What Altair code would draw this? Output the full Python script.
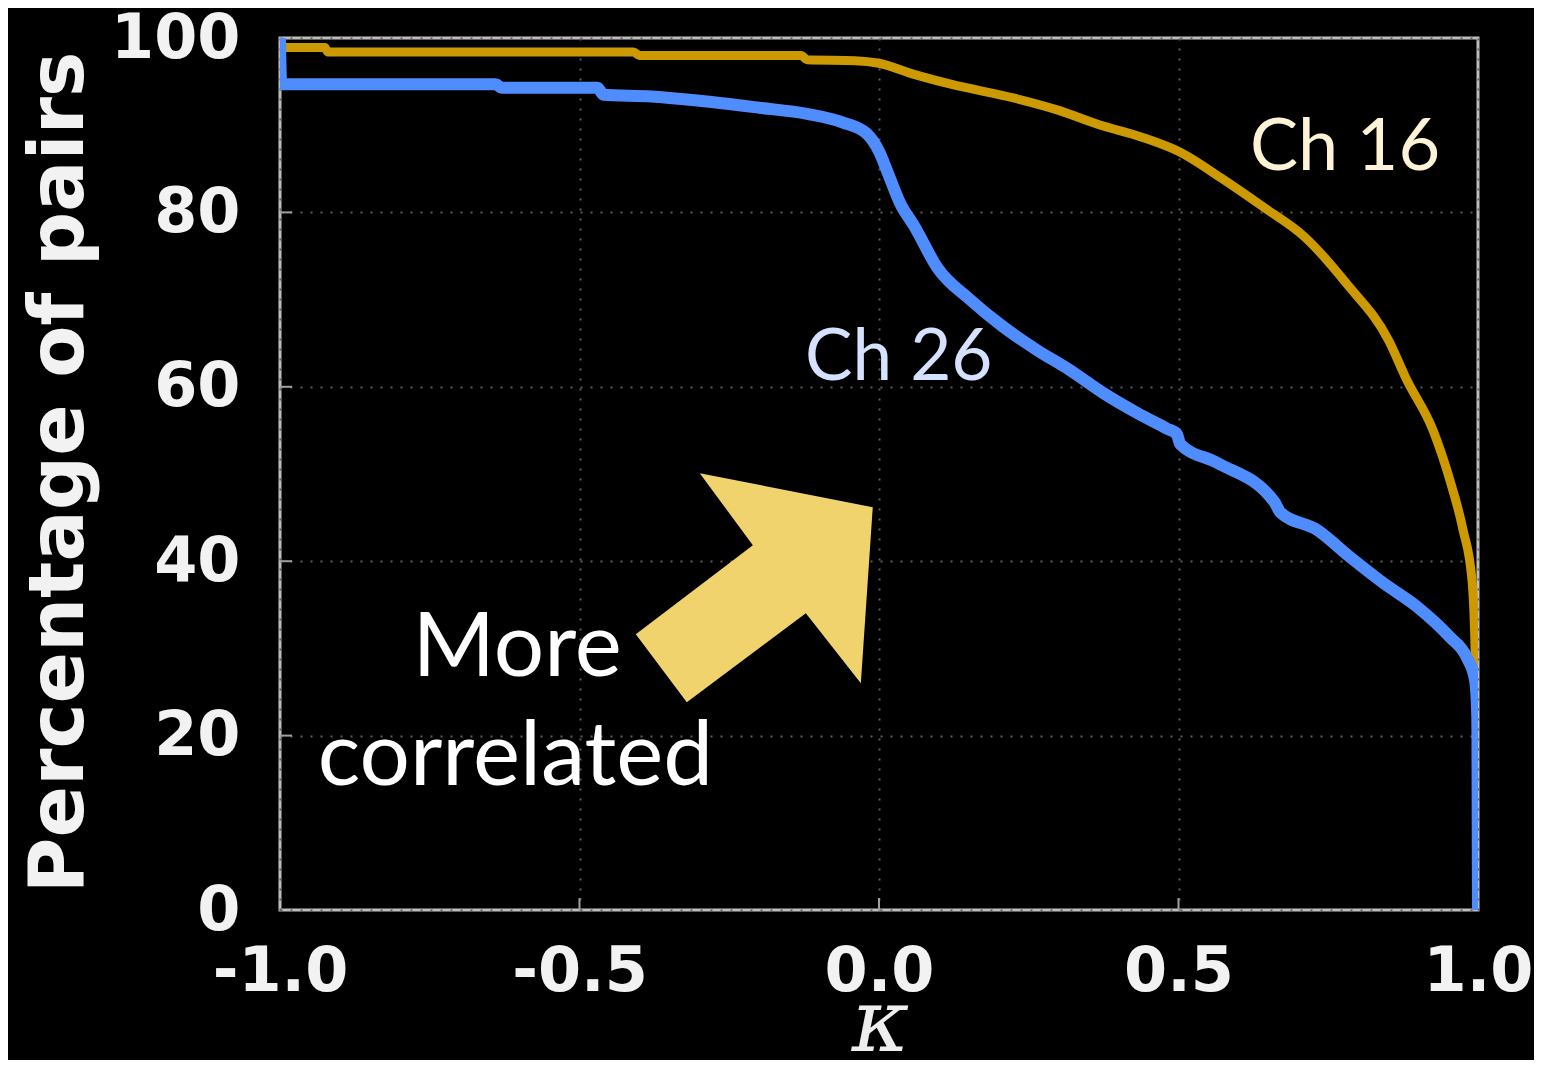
import altair as alt
import pandas as pd

# ---------------- data ----------------
ch16_kappa = [-1.0, -0.925, -0.92, -0.41, -0.40, -0.13, -0.12, -0.04, 0.0, 0.06, 0.12,
              0.226, 0.30, 0.365, 0.44, 0.503, 0.57, 0.642, 0.712, 0.781, 0.851, 0.881,
              0.925, 0.953, 0.975, 0.990, 0.995, 0.999, 1.0]
ch16_pct = [98.9, 98.9, 98.4, 98.4, 98.0, 98.0, 97.5, 97.4, 97.1, 95.8, 94.7,
            93.1, 91.7, 90.1, 88.6, 86.9, 84.0, 80.6, 77.1, 71.8, 65.3, 60.8,
            55.0, 49.3, 43.6, 37.8, 30.2, 10.0, 0.0]

ch26_kappa = [-1.0, -0.998, -0.64, -0.63, -0.47, -0.46, -0.38, -0.30, -0.20, -0.12,
              -0.06, -0.02, 0.0, 0.015, 0.035, 0.06, 0.097, 0.152, 0.207, 0.264,
              0.319, 0.374, 0.431, 0.481, 0.497, 0.503, 0.564, 0.66, 0.67, 0.731,
              0.786, 0.842, 0.898, 0.953, 0.981, 0.995, 0.999, 1.0]
ch26_pct = [100.0, 94.7, 94.7, 94.3, 94.3, 93.5, 93.3, 92.8, 92.0, 91.3,
            90.3, 89.0, 87.0, 84.5, 81.1, 78.3, 73.7, 70.0, 66.9, 64.2,
            61.9, 59.3, 57.0, 55.2, 54.6, 53.4, 51.3, 46.8, 45.6, 43.6,
            40.5, 37.5, 34.8, 31.3, 29.0, 26.4, 22.0, 0.0]

x_ticks = [-1.0, -0.5, 0.0, 0.5, 1.0]
y_ticks = [0, 20, 40, 60, 80, 100]
x_inner_ticks = [-0.5, 0.0, 0.5]
y_inner_ticks = [20, 40, 60, 80]

ann_text = ["Ch 16", "Ch 26", "More", "correlated"]
ann_kappa = [0.778, 0.033, -0.604, -0.607]
ann_pct = [84.9, 60.8, 26.8, 14.3]

arrow_kappa = [-0.209]
arrow_pct = [36.9]

# ---------------- chart ----------------
W, H = 1198, 872
GOLD = "#CC9900"
BLUE = "#4F8DFF"

xs = alt.Scale(domain=[-1, 1], nice=False, zero=False)
ys = alt.Scale(domain=[0, 100], nice=False, zero=False)

df16 = pd.DataFrame({"kappa": ch16_kappa, "pct": ch16_pct, "order": list(range(len(ch16_kappa)))})
df26 = pd.DataFrame({"kappa": ch26_kappa, "pct": ch26_pct, "order": list(range(len(ch26_kappa)))})

label_expr = "datum.value < 0 ? '-' + format(-datum.value, '.1f') : format(datum.value, '.1f')"

x_axis = alt.Axis(
    values=x_ticks, labelExpr=label_expr, title="κ",
    labelFont="DejaVu Sans", labelFontWeight="bold", labelFontSize=62, labelColor="#f2f2f2",
    labelBaseline="alphabetic", labelPadding=80, labelFlush=False, labelOverlap=False,
    ticks=False, tickSize=0, domain=False,
    grid=True, gridColor="#5c5c5c", gridDash=[2, 8], gridWidth=2,
    titleFont="DejaVu Serif", titleFontStyle="italic", titleFontWeight="normal", titleFontSize=88,
    titleColor="#eeeeee", titleX=600, titleY=140, titleBaseline="alphabetic", titleAlign="center",
)
y_axis = alt.Axis(
    values=y_ticks, title="Percentage of pairs",
    labelFont="DejaVu Sans", labelFontWeight="bold", labelFontSize=62, labelColor="#f2f2f2",
    labelPadding=40, labelFlush=False, labelOverlap=False, labelBaseline="middle",
    ticks=False, tickSize=0, domain=False,
    grid=True, gridColor="#5c5c5c", gridDash=[2, 8], gridWidth=2,
    titleFont="DejaVu Sans", titleFontWeight="bold", titleFontSize=76, titleColor="#f2f2f2",
    titleAngle=270, titleX=-198, titleY=434, titleBaseline="alphabetic", titleAlign="center",
)

gold = alt.Chart(df16).mark_line(color=GOLD, strokeWidth=9, clip=True, strokeJoin="round",
                                 interpolate="monotone").encode(
    x=alt.X("kappa:Q", scale=xs, axis=x_axis),
    y=alt.Y("pct:Q", scale=ys, axis=y_axis),
    order=alt.Order("order:Q"),
)
blue = alt.Chart(df26).mark_line(color=BLUE, strokeWidth=12, clip=True, strokeJoin="round",
                                 interpolate="monotone").encode(
    x=alt.X("kappa:Q", scale=xs),
    y=alt.Y("pct:Q", scale=ys),
    order=alt.Order("order:Q"),
)

xt = alt.Chart(pd.DataFrame({"kappa": x_inner_ticks})).mark_rule(color="#a0a0a0", strokeWidth=2).encode(
    x=alt.X("kappa:Q", scale=xs), y=alt.value(H), y2=alt.value(H - 12)
)
yt = alt.Chart(pd.DataFrame({"pct": y_inner_ticks})).mark_rule(color="#a0a0a0", strokeWidth=2).encode(
    y=alt.Y("pct:Q", scale=ys), x=alt.value(0), x2=alt.value(12)
)

arrow_path = ("M-0.458,-0.975 L1.008,-0.686 L0.907,0.805 L0.441,0.212 "
              "L-0.568,0.966 L-1,0.39 L-0.008,-0.364 Z")
arrow = alt.Chart(pd.DataFrame({"kappa": arrow_kappa, "pct": arrow_pct})).mark_point(
    shape=arrow_path, size=236 * 236, filled=True, fill="#F0D36C", opacity=1, strokeWidth=0
).encode(x=alt.X("kappa:Q", scale=xs), y=alt.Y("pct:Q", scale=ys))

ann_df = pd.DataFrame({"text": ann_text, "kappa": ann_kappa, "pct": ann_pct})
ann_styles = {
    "Ch 16": ("#FFF3D6", 72),
    "Ch 26": ("#D5E2FF", 71),
    "More": ("#FFFFFF", 89),
    "correlated": ("#FFFFFF", 89),
}
texts = []
for t in ann_text:
    col, fs = ann_styles[t]
    texts.append(
        alt.Chart(ann_df[ann_df["text"] == t]).mark_text(
            font="Lato", fontSize=fs, color=col, align="center", baseline="alphabetic"
        ).encode(x=alt.X("kappa:Q", scale=xs), y=alt.Y("pct:Q", scale=ys), text="text:N")
    )

chart = alt.layer(gold, blue, xt, yt, arrow, *texts).properties(
    width=W, height=H,
    autosize=alt.AutoSizeParams(type="none"),
    padding={"left": 272, "top": 30, "right": 56, "bottom": 150},
    background="black",
).configure_view(
    fill="black", stroke="#bdbdbd", strokeWidth=3
)

chart.save("out.html", embed_options={"renderer": "svg", "actions": False})
